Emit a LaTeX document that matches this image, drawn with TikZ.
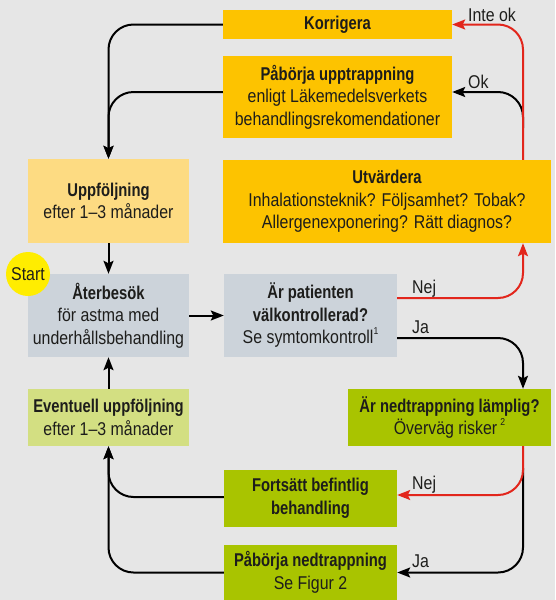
\documentclass[tikz,border=0pt]{standalone}
\usepackage{fontspec}
\setmainfont{Liberation Sans}[FakeStretch=0.86]
\newfontfamily\bfam{Liberation Sans}[FakeStretch=0.8]
\newcommand\B[1]{{\bfam\bfseries #1}}
\usetikzlibrary{arrows.meta}
\definecolor{bg}{HTML}{E6E6E6}
\definecolor{org}{HTML}{FDC300}
\definecolor{lorg}{HTML}{FDDB82}
\definecolor{gblue}{HTML}{CCD3DA}
\definecolor{grn}{HTML}{A9C400}
\definecolor{lgrn}{HTML}{D3DF82}
\definecolor{rd}{HTML}{E2261C}
\definecolor{yel}{HTML}{FFED00}
\definecolor{txt}{HTML}{1D1D1B}
\tikzset{
  box/.style={draw=none, inner sep=0pt, align=center, text=txt,
    font=\fontsize{18.5}{22.5}\selectfont},
  conn/.style={line width=2pt, draw=black, rounded corners=25pt,
    -{Stealth[length=13pt,width=10pt,inset=2.5pt]}},
  rconn/.style={conn, draw=rd, fill=none},
  lbl/.style={anchor=base west, inner sep=0pt, text=txt,
    font=\fontsize{18.5}{22.5}\selectfont},
}
\begin{document}
\begin{tikzpicture}[x=1pt,y=-1pt]
\fill[bg] (0,0) rectangle (555,600);
\useasboundingbox (0,0) rectangle (555,600);

\node[box, fill=org, minimum width=229pt, minimum height=29pt] (korr) at (337.5,24.5) {\B{Korrigera}};
\node[box, fill=org, minimum width=229pt, minimum height=82pt] (upp) at (337.5,97) {\B{Påbörja upptrappning}\\enligt Läkemedelsverkets\\behandlingsrekomendationer};
\node[box, fill=org, minimum width=328pt, minimum height=83pt] (utv) at (387,201.5) {\B{Utvärdera}\\Inhalationsteknik? Följsamhet? Tobak?\\Allergenexponering? Rätt diagnos?};
\node[box, fill=lorg, minimum width=161pt, minimum height=84pt] (uppf) at (108.5,201) {\B{Uppföljning}\\efter 1–3 månader};
\node[box, fill=gblue, minimum width=161pt, minimum height=83pt] (ater) at (108.5,315.5) {\B{Återbesök}\\för astma med\\underhållsbehandling};
\node[box, fill=gblue, minimum width=173pt, minimum height=83pt] (pat) at (310.5,315.5) {\B{Är patienten}\\\B{välkontrollerad?}\\Se symtomkontroll\raisebox{0.5em}{\fontsize{10}{10}\selectfont 1}};
\node[box, fill=grn, minimum width=203pt, minimum height=57pt] (ned) at (449.5,417.5) {\B{Är nedtrappning lämplig?}\\Överväg risker\,\raisebox{0.5em}{\fontsize{10}{10}\selectfont 2}};
\node[box, fill=lgrn, minimum width=161pt, minimum height=57pt] (event) at (108.5,417.5) {\B{Eventuell uppföljning}\\efter 1–3 månader};
\node[box, fill=grn, minimum width=173pt, minimum height=57pt] (forts) at (310.5,498.5) {\B{Fortsätt befintlig}\\\B{behandling}};
\node[box, fill=grn, minimum width=173pt, minimum height=55pt] (pned) at (310.5,572.5) {\B{Påbörja nedtrappning}\\Se Figur 2};

\node[circle, fill=yel, minimum size=44pt, inner sep=0pt, text=txt, font=\fontsize{18.5}{22.5}\selectfont] (start) at (28,274) {Start};

\coordinate (rx) at (523,0);
\coordinate (okstart) at (523,128);
\coordinate (jastart) at (523,468);

% left side
\draw[conn] (korr.west) -| (uppf.north);
\draw[conn] ([yshift=5pt]upp.west) -| (uppf.north);
\draw[conn] (uppf.south) -- (ater.north);
\draw[conn] (ater.east) -- (pat.west);
\draw[conn] (event.north) -- (ater.south);
\draw[conn] ([yshift=1.5pt]forts.west) -| (event.south);
\draw[conn] (pned.west) -| (event.south);

% right side
\draw[conn] (okstart) |- ([yshift=5pt]upp.east);
\draw[rconn] (rx |- utv.north) |- (korr.east);
\draw[rconn] ([yshift=17.5pt]pat.east) -| (rx |- utv.south);
\draw[conn] ([yshift=-22.5pt]pat.east) -| (rx |- ned.north);
\draw[conn] (jastart) |- (pned.east);
\draw[rconn] (rx |- ned.south) |- ([yshift=3.5pt]forts.east);

% labels
\node[lbl] (l1) at (468,21) {Inte ok};
\node[lbl] (l2) at (468,88) {Ok};
\node[lbl] (l3) at (412,293) {Nej};
\node[lbl] (l4) at (412,333) {Ja};
\node[lbl] (l5) at (412,489) {Nej};
\node[lbl] (l6) at (412,567) {Ja};
\end{tikzpicture}
\end{document}
